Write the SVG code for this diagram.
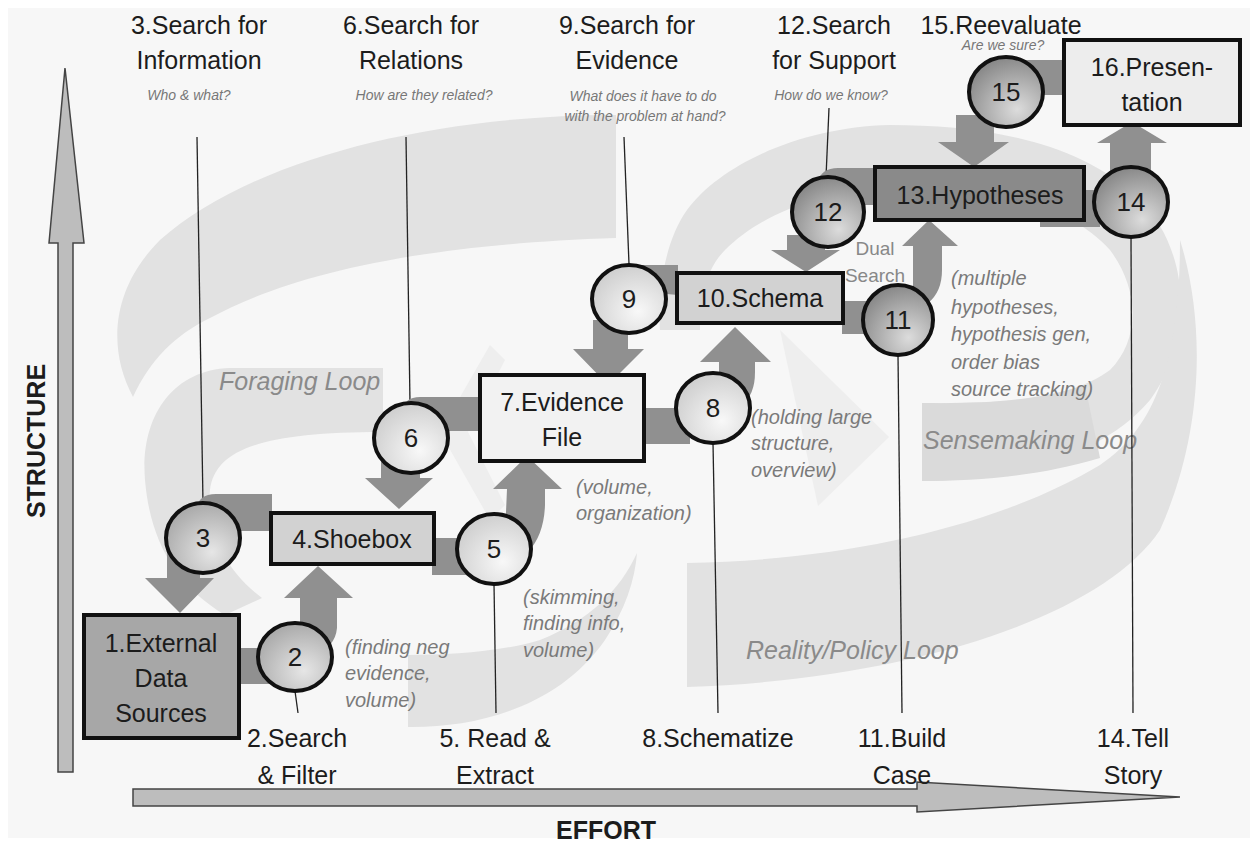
<svg xmlns="http://www.w3.org/2000/svg" width="1257" height="845" viewBox="0 0 1257 845">
<defs>
<style>
text{font-family:"Liberation Sans",Arial,sans-serif;}
.lbl{font-size:25px;fill:#1c1c1c;text-anchor:middle;}
.sub{font-size:14px;font-style:italic;fill:#777;text-anchor:middle;}
.ann{font-size:20px;font-style:italic;fill:#7a7a7a;}
.loop{font-size:25px;font-style:italic;fill:#8a8a8a;}
.box{stroke:#111;stroke-width:4;}
.circ{stroke:#111;stroke-width:4;}
.num{font-size:26px;fill:#1c1c1c;text-anchor:middle;}
.conn{fill:#909090;}
.lead{stroke:#222;stroke-width:1.3;fill:none;}
.band{fill:#e2e2e2;}
.axis{fill:#bdbdbd;stroke:#444;stroke-width:1.5;}
.axl{font-size:25px;font-weight:bold;fill:#1c1c1c;text-anchor:middle;}
</style>
<radialGradient id="gLight" cx="0.62" cy="0.68" r="0.72"><stop offset="0" stop-color="#f8f8f8"/><stop offset="1" stop-color="#cdcdcd"/></radialGradient>
<radialGradient id="gMid" cx="0.62" cy="0.7" r="0.75"><stop offset="0" stop-color="#e6e6e6"/><stop offset="1" stop-color="#a6a6a6"/></radialGradient>
<radialGradient id="gDark" cx="0.65" cy="0.75" r="0.78"><stop offset="0" stop-color="#dcdcdc"/><stop offset="1" stop-color="#868686"/></radialGradient>
</defs>

<rect x="0" y="0" width="1257" height="845" fill="#ffffff"/>
<rect x="8" y="8" width="1242" height="830" fill="#f7f7f7"/>

<g id="loops">
  <path class="band" d="M616,115 C430,115 250,160 160,240 C110,290 108,350 133,397 C150,360 175,335 210,318 C280,280 400,245 616,238 Z"/>
  <path class="band" d="M383,368 L230,368 C170,370 140,420 145,480 C150,540 175,585 225,615 L262,598 C225,570 205,530 210,490 C215,450 260,432 383,432 Z"/>
  <path class="band" d="M408,655 L408,727 C480,728 560,705 605,640 C625,610 635,580 637,553 C620,590 590,620 540,640 C500,652 450,655 408,655 Z"/>
  <path fill="#eeeeee" d="M490,345 L440,432 L490,520 L505,505 L468,432 L505,360 Z"/>
  <path class="band" d="M922,403 L922,481 C1000,481 1100,460 1150,400 C1195,340 1190,250 1140,200 C1080,140 980,125 890,125 C800,127 720,165 687,210 C662,245 658,300 660,330 L700,330 C700,300 705,270 725,250 C760,215 820,190 900,186 C990,184 1070,205 1110,250 C1140,290 1140,340 1110,370 C1070,400 1000,404 922,403 Z"/>
  <path fill="#dadada" d="M922,403 L922,481 C980,481 1040,476 1100,458 L1085,385 C1040,400 990,404 922,403 Z"/>
  <path fill="#eeeeee" d="M780,330 L889,437 L818,506 Z"/>
  <path class="band" d="M687,563 C850,560 1000,525 1100,465 C1160,425 1180,350 1180,240 C1205,320 1205,430 1160,530 C1100,620 900,680 687,687 Z"/>
</g>

<g id="loop-labels">
  <text class="loop" x="219" y="390">Foraging Loop</text>
  <text class="loop" x="923" y="449">Sensemaking Loop</text>
  <text class="loop" x="746" y="659">Reality/Policy Loop</text>
</g>

<g id="axes">
  <polygon class="axis" points="65,68 84,243 73,243 73,772 58,772 58,243 49,243"/>
  <polygon class="axis" points="133,789 917,789 917,782 1180,797 917,812 917,806 133,806"/>
  <text class="axl" font-size="24" transform="translate(45,441) rotate(-90)">STRUCTURE</text>
  <text class="axl" x="606" y="839">EFFORT</text>
</g>

<g id="connectors">
  <path class="lead" d="M197,137 L203,503"/>
  <path class="lead" d="M406,137 L410,403"/>
  <path class="lead" d="M624,137 L629,264"/>
  <path class="lead" d="M829,108 L826,177"/>
  <path class="lead" d="M295,691 L298,713"/>
  <path class="lead" d="M494,584 L496,713"/>
  <path class="lead" d="M713,443 L718,713"/>
  <path class="lead" d="M898,355 L902,713"/>
  <path class="lead" d="M1131,237 L1133,713"/>

  <rect class="conn" x="226" y="648" width="46" height="36"/>
  <path class="conn" d="M300,645 L300,598 L284,598 L318,566 L353,598 L337,598 L337,628 Q335,648 315,652 Z"/>
  <path class="conn" d="M196,531 L196,510 Q198,494 216,494 L272,494 L272,531 Z"/>
  <path class="conn" d="M167,545 L200,545 L200,578 L214,578 L180,613 L145,578 L167,578 Z"/>
  <rect class="conn" x="432" y="538" width="34" height="37"/>
  <path class="conn" d="M505,535 L507,489 L493,489 L527,456 L562,489 L545,489 L545,505 Q544,535 528,552 Z"/>
  <path class="conn" d="M402,431 L402,412 Q404,397 420,397 L481,397 L481,431 Z"/>
  <path class="conn" d="M381,455 L420,455 L420,478 L433,478 L399,509 L365,478 L381,478 Z"/>
  <rect class="conn" x="644" y="408" width="46" height="36"/>
  <path class="conn" d="M719,395 L719,362 L700,362 L735,327 L771,362 L755,362 L755,372 Q755,395 742,404 Z"/>
  <path class="conn" d="M622,290 L622,278 Q625,265 642,265 L678,265 L678,295 Z"/>
  <path class="conn" d="M593,320 L628,320 L628,349 L644,349 L608,385 L573,349 L593,349 Z"/>
  <rect class="conn" x="842" y="301" width="30" height="33"/>
  <path class="conn" d="M913,300 L913,246 L902,246 L929,220 L958,246 L942,246 L942,270 Q942,292 928,303 Z"/>
  <path class="conn" d="M818,205 L818,182 Q821,168 838,168 L877,168 L877,205 Z"/>
  <path class="conn" d="M787,235 L825,235 L825,250 L840,250 L806,272 L771,250 L787,250 Z"/>
  <rect class="conn" x="1040" y="190" width="60" height="37"/>
  <path class="conn" d="M1110,175 L1110,143 L1097,143 L1132,122 L1167,143 L1151,143 L1151,175 Z"/>
  <path class="conn" d="M998,95 L998,74 Q1001,60 1018,60 L1065,60 L1065,95 Z"/>
  <path class="conn" d="M956,115 L994,115 L994,142 L1009,142 L974,167 L938,142 L956,142 Z"/>
</g>

<g id="node1">
  <rect class="box" x="84" y="615" width="155" height="123" fill="#a7a7a7"/>
  <text class="lbl" x="161" y="652">1.External</text>
  <text class="lbl" x="161" y="687">Data</text>
  <text class="lbl" x="161" y="722">Sources</text>
</g>
<g id="node4">
  <rect class="box" x="271" y="513" width="163" height="51" fill="#d2d2d2"/>
  <text class="lbl" x="352" y="548">4.Shoebox</text>
</g>
<g id="node7">
  <rect class="box" x="480" y="375" width="164" height="86" fill="#f2f2f2"/>
  <text class="lbl" x="562" y="411">7.Evidence</text>
  <text class="lbl" x="562" y="446">File</text>
</g>
<g id="node10">
  <rect class="box" x="677" y="273" width="166" height="50" fill="#d2d2d2"/>
  <text class="lbl" x="760" y="307">10.Schema</text>
</g>
<g id="node13">
  <rect class="box" x="875" y="167" width="209" height="53" fill="#8a8a8a"/>
  <text class="lbl" x="980" y="204" font-size="24" fill="#262626">13.Hypotheses</text>
</g>
<g id="node16">
  <rect class="box" x="1064" y="40" width="176" height="85" fill="#ededed"/>
  <text class="lbl" x="1152" y="76">16.Presen-</text>
  <text class="lbl" x="1152" y="111">tation</text>
</g>

<g id="step2"><ellipse class="circ" cx="295" cy="657" rx="37" ry="34" fill="url(#gMid)"/><text class="num" x="295" y="666">2</text></g>
<g id="step3"><ellipse class="circ" cx="203" cy="538" rx="37" ry="35" fill="url(#gMid)"/><text class="num" x="203" y="547">3</text></g>
<g id="step5"><ellipse class="circ" cx="494" cy="549" rx="37" ry="35" fill="url(#gLight)"/><text class="num" x="494" y="558">5</text></g>
<g id="step6"><ellipse class="circ" cx="411" cy="438" rx="37" ry="35" fill="url(#gLight)"/><text class="num" x="411" y="447">6</text></g>
<g id="step8"><ellipse class="circ" cx="713" cy="408" rx="37" ry="35" fill="url(#gLight)"/><text class="num" x="713" y="417">8</text></g>
<g id="step9"><ellipse class="circ" cx="629" cy="299" rx="37" ry="34" fill="url(#gLight)"/><text class="num" x="629" y="308">9</text></g>
<g id="step11"><ellipse class="circ" cx="898" cy="320" rx="35" ry="35" fill="url(#gDark)"/><text class="num" x="898" y="329">11</text></g>
<g id="step12"><ellipse class="circ" cx="828" cy="212" rx="36" ry="35" fill="url(#gDark)"/><text class="num" x="828" y="221">12</text></g>
<g id="step14"><ellipse class="circ" cx="1131" cy="202" rx="37" ry="35" fill="url(#gDark)"/><text class="num" x="1131" y="211">14</text></g>
<g id="step15"><ellipse class="circ" cx="1006" cy="92" rx="37" ry="35" fill="url(#gDark)"/><text class="num" x="1006" y="101">15</text></g>

<g id="top-labels">
  <text class="lbl" x="199" y="34">3.Search for</text>
  <text class="lbl" x="199" y="69">Information</text>
  <text class="sub" x="189" y="100">Who &amp; what?</text>
  <text class="lbl" x="411" y="34">6.Search for</text>
  <text class="lbl" x="411" y="69">Relations</text>
  <text class="sub" x="424" y="100">How are they related?</text>
  <text class="lbl" x="627" y="34">9.Search for</text>
  <text class="lbl" x="627" y="69">Evidence</text>
  <text class="sub" x="643" y="101">What does it have to do</text>
  <text class="sub" x="645" y="121">with the problem at hand?</text>
  <text class="lbl" x="834" y="34">12.Search</text>
  <text class="lbl" x="834" y="69">for Support</text>
  <text class="sub" x="831" y="100">How do we know?</text>
  <text class="lbl" x="1001" y="34">15.Reevaluate</text>
  <text class="sub" x="1003" y="50">Are we sure?</text>
</g>

<g id="bottom-labels">
  <text class="lbl" x="297" y="747">2.Search</text>
  <text class="lbl" x="297" y="784">&amp; Filter</text>
  <text class="lbl" x="495" y="747">5. Read &amp;</text>
  <text class="lbl" x="495" y="784">Extract</text>
  <text class="lbl" x="718" y="747">8.Schematize</text>
  <text class="lbl" x="902" y="747">11.Build</text>
  <text class="lbl" x="902" y="784">Case</text>
  <text class="lbl" x="1133" y="747">14.Tell</text>
  <text class="lbl" x="1133" y="784">Story</text>
</g>

<g id="annotations">
  <text class="ann" x="345" y="654">(finding neg</text>
  <text class="ann" x="345" y="680">evidence,</text>
  <text class="ann" x="345" y="707">volume)</text>
  <text class="ann" x="523" y="604">(skimming,</text>
  <text class="ann" x="523" y="630">finding info,</text>
  <text class="ann" x="523" y="657">volume)</text>
  <text class="ann" x="576" y="494">(volume,</text>
  <text class="ann" x="576" y="520">organization)</text>
  <text class="ann" x="751" y="424">(holding large</text>
  <text class="ann" x="751" y="450">structure,</text>
  <text class="ann" x="751" y="477">overview)</text>
  <text class="ann" x="951" y="285">(multiple</text>
  <text class="ann" x="951" y="314">hypotheses,</text>
  <text class="ann" x="951" y="341">hypothesis gen,</text>
  <text class="ann" x="951" y="369">order bias</text>
  <text class="ann" x="951" y="396">source tracking)</text>
  <text x="875" y="255" font-size="19" fill="#888" text-anchor="middle">Dual</text>
  <text x="875" y="282" font-size="19" fill="#888" text-anchor="middle">Search</text>
</g>
</svg>
